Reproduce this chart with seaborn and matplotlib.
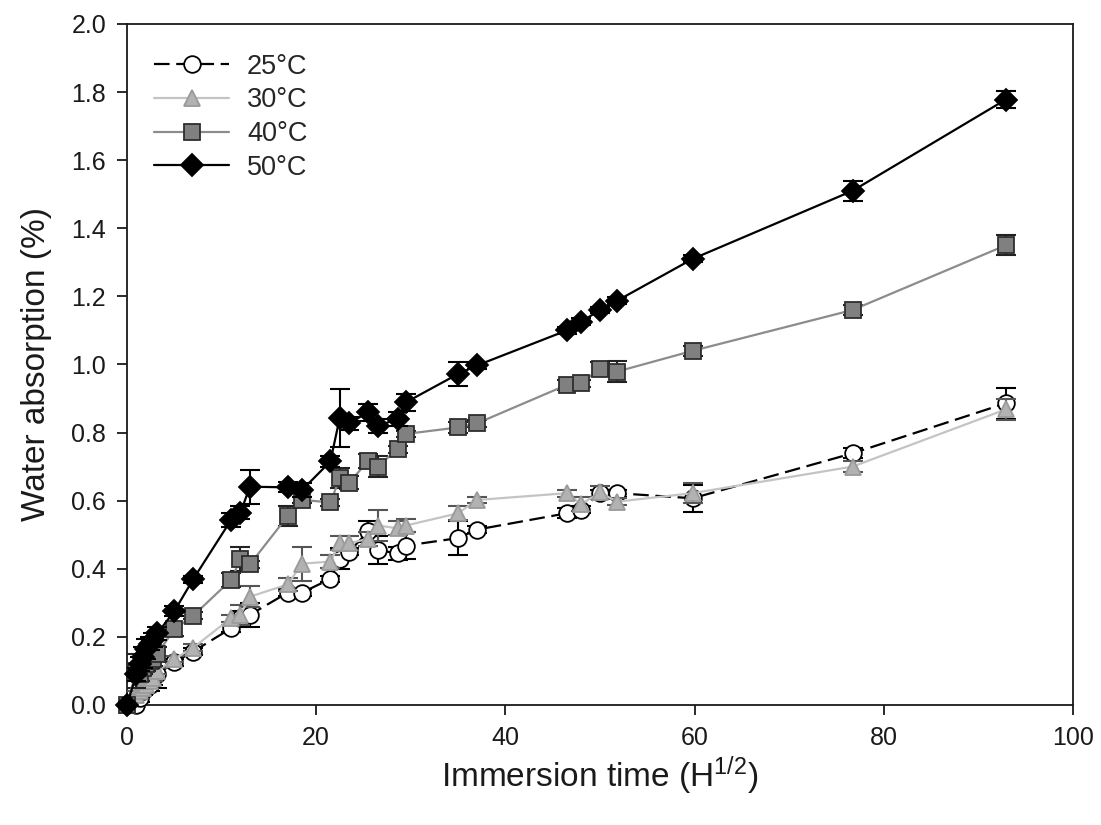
import numpy as np
import pandas as pd
import matplotlib
matplotlib.use("Agg")
import matplotlib.pyplot as plt
import seaborn as sns

# ---- data ----
time_sqrt_h = [0, 1.0, 1.4, 1.7, 2.0, 2.4, 2.8, 3.2, 5.0, 7.0, 11.0, 12.0, 13.0, 17.0, 18.5,
               21.5, 22.5, 23.5, 25.5, 26.5, 28.6, 29.5, 35.0, 37.0, 46.5, 48.0, 50.0, 51.8,
               59.8, 76.7, 92.9]

wa_25 = [0, 0.0, 0.02, 0.04, 0.05, 0.06, 0.08, 0.09, 0.125, 0.157, 0.225, 0.255, 0.265, 0.33,
         0.33, 0.37, 0.43, 0.45, 0.51, 0.455, 0.445, 0.468, 0.49, 0.515, 0.563, 0.573, 0.622,
         0.622, 0.607, 0.739, 0.886]
wa_30 = [0, 0.03, 0.04, 0.05, 0.06, 0.07, 0.08, 0.10, 0.135, 0.168, 0.255, 0.265, 0.318, 0.354,
         0.415, 0.421, 0.475, 0.475, 0.488, 0.527, 0.519, 0.527, 0.563, 0.602, 0.622, 0.59,
         0.624, 0.597, 0.622, 0.70, 0.868]
wa_40 = [0, 0.10, 0.09, 0.11, 0.12, 0.13, 0.135, 0.15, 0.222, 0.262, 0.367, 0.429, 0.413, 0.555,
         0.602, 0.595, 0.666, 0.653, 0.717, 0.70, 0.751, 0.796, 0.815, 0.827, 0.94, 0.945,
         0.987, 0.979, 1.04, 1.16, 1.35]
wa_50 = [0, 0.09, 0.12, 0.14, 0.165, 0.18, 0.19, 0.21, 0.275, 0.369, 0.543, 0.565, 0.641, 0.639,
         0.631, 0.715, 0.844, 0.827, 0.86, 0.82, 0.839, 0.889, 0.972, 0.997, 1.10, 1.125,
         1.16, 1.187, 1.31, 1.51, 1.778]

err_25 = [0, 0.01, 0.01, 0.01, 0.01, 0.02, 0.02, 0.04, 0.01, 0.01, 0.01, 0.02, 0.035, 0.01,
          0.01, 0.01, 0.03, 0.01, 0.03, 0.04, 0.02, 0.04, 0.05, 0.01, 0.015, 0.01, 0.01, 0.01,
          0.04, 0.015, 0.045]
err_30 = [0, 0.01, 0.01, 0.01, 0.01, 0.01, 0.01, 0.01, 0.01, 0.01, 0.01, 0.03, 0.03, 0.02,
          0.05, 0.02, 0.02, 0.02, 0.02, 0.045, 0.02, 0.02, 0.02, 0.01, 0.01, 0.02, 0.02, 0.01,
          0.03, 0.015, 0.03]
err_40 = [0, 0.05, 0.02, 0.02, 0.02, 0.02, 0.02, 0.02, 0.02, 0.01, 0.02, 0.035, 0.01, 0.03,
          0.01, 0.01, 0.03, 0.02, 0.02, 0.03, 0.01, 0.01, 0.015, 0.01, 0.015, 0.01, 0.02, 0.03,
          0.015, 0.015, 0.03]
err_50 = [0, 0.02, 0.02, 0.03, 0.03, 0.02, 0.02, 0.02, 0.015, 0.01, 0.02, 0.02, 0.05, 0.015,
          0.02, 0.015, 0.085, 0.02, 0.025, 0.02, 0.02, 0.025, 0.035, 0.01, 0.01, 0.01, 0.01,
          0.01, 0.01, 0.03, 0.025]

labels = ["25°C", "30°C", "40°C", "50°C"]

# ---- style ----
sns.set_style("ticks")
plt.rcParams["font.family"] = ["Liberation Sans", "DejaVu Sans"]
plt.rcParams["mathtext.fontset"] = "custom"
plt.rcParams["mathtext.rm"] = "Liberation Sans"
plt.rcParams["mathtext.it"] = "Liberation Sans"

fig = plt.figure(figsize=(11.01, 8.25), dpi=100)
ax = fig.add_axes([0.1153, 0.1455, 0.8593, 0.8255])

series = [
    dict(y=wa_25, e=err_25, label=labels[0], lc="black", ls=(0, (7, 3)), m="o", ms=12,
         mfc="white", mec="black", ecol="black"),
    dict(y=wa_30, e=err_30, label=labels[1], lc="#c4c4c4", ls="-", m="^", ms=12,
         mfc="#b2b2b2", mec="#9a9a9a", ecol="#555555"),
    dict(y=wa_40, e=err_40, label=labels[2], lc="#8c8c8c", ls="-", m="s", ms=11,
         mfc="#808080", mec="#2e2e2e", ecol="#222222"),
    dict(y=wa_50, e=err_50, label=labels[3], lc="black", ls="-", m="D", ms=11,
         mfc="black", mec="black", ecol="black"),
]

for i, s in enumerate(series):
    df = pd.DataFrame({"t": time_sqrt_h, "w": s["y"]})
    ax.errorbar(time_sqrt_h, s["y"], yerr=s["e"], fmt="none", ecolor=s["ecol"],
                elinewidth=1.5, capsize=7, capthick=1.5, zorder=2 + 2 * i)
    sns.lineplot(data=df, x="t", y="w", ax=ax, color=s["lc"], linestyle=s["ls"],
                 linewidth=1.6, marker=s["m"], markersize=s["ms"],
                 markerfacecolor=s["mfc"], markeredgecolor=s["mec"], markeredgewidth=1.3,
                 label=s["label"], errorbar=None, sort=True, zorder=3 + 2 * i,
                 clip_on=False)

ax.set_xlim(0, 100)
ax.set_ylim(0, 2.0)
ax.set_xticks(np.arange(0, 101, 20))
ax.set_yticks(np.arange(0, 2.01, 0.2))
ax.set_yticklabels([f"{v:.1f}" for v in np.arange(0, 2.01, 0.2)])
ax.tick_params(axis="both", direction="out", length=7, width=1.3, labelsize=18, pad=8,
               colors="#1a1a1a")
for sp in ax.spines.values():
    sp.set_linewidth(1.3)
    sp.set_color("#1a1a1a")
    sp.set_visible(True)
    sp.set_zorder(1)

ax.set_xlabel("Immersion time (H$^{\\mathregular{1/2}}$)", fontsize=24, labelpad=3,
              color="#1a1a1a")
ax.set_ylabel("Water absorption (%)", fontsize=24, labelpad=14, color="#1a1a1a")

leg = ax.legend(loc="upper left", bbox_to_anchor=(0.029, 0.956), frameon=False,
                fontsize=19.5, handlelength=2.77, handletextpad=0.65, labelspacing=0.28,
                borderaxespad=0, borderpad=0, numpoints=1)

fig.savefig("out.png", dpi=100)
